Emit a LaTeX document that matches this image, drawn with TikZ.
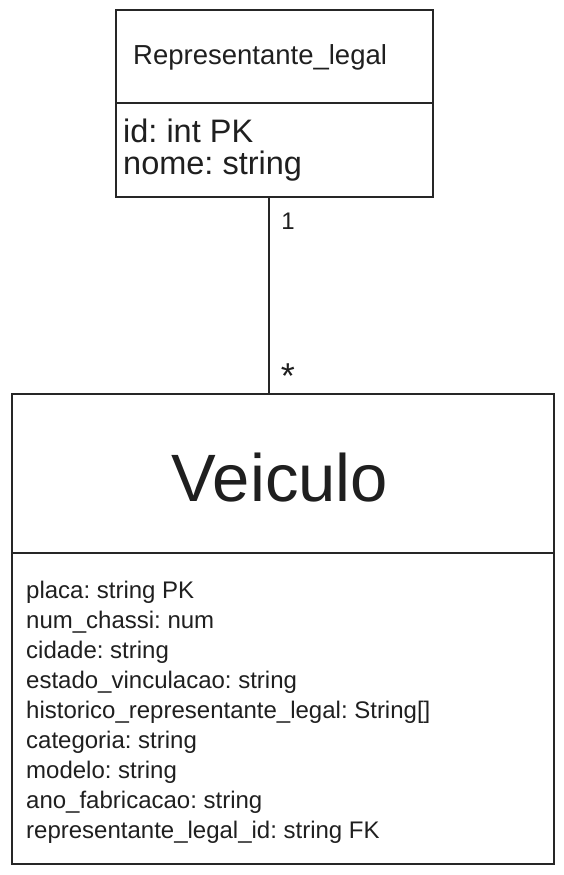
\documentclass[tikz,border=0pt]{standalone}
\usepackage{fontspec}
\setmainfont{Liberation Sans}
\frenchspacing
\begin{document}
\begin{tikzpicture}[x=1pt,y=-1pt,
  box/.style={draw=black!85, line width=1.5pt, inner sep=0pt},
  sep/.style={draw=black!85, line width=1.5pt},
  txt/.style={inner sep=0pt, anchor=west, text=black!88},
  link/.style={draw=black!85, line width=1.8pt}]
\useasboundingbox (0,0) rectangle (564,875);
% Representante_legal
\node[box, minimum width=317pt, minimum height=187pt] (rep) at (274.5,103.5) {};
\draw[sep] (rep.west |- 0,103) -- (rep.east |- 0,103);
\node[txt, font=\fontsize{27.5}{30}\selectfont] (reptitle) at (133,57) {Representante\_legal};
\node[txt, font=\fontsize{32.5}{34}\selectfont] (repid) at (123,131) {id: int PK};
\node[txt, font=\fontsize{32.5}{34}\selectfont] (repnome) at (123,166) {nome: string};
% Veiculo
\node[box, minimum width=542pt, minimum height=470pt] (veh) at (283,629) {};
\draw[sep] (veh.west |- 0,553) -- (veh.east |- 0,553);
\node[font=\fontsize{67}{72}\selectfont, inner sep=0pt, text=black!88] (vtitle) at (280,478) {Veiculo};
\foreach \t [count=\i] in {placa: string PK,num\_chassi: num,cidade: string,estado\_vinculacao: string,historico\_representante\_legal: String[],categoria: string,modelo: string,ano\_fabricacao: string,representante\_legal\_id: string FK}{
  \node[txt, font=\fontsize{24}{27}\selectfont] (attr\i) at (26,{562+30*\i}) {\t};
}
% connector
\coordinate (lx) at (269,0);
\draw[link] (rep.south -| lx) -- (veh.north -| lx);
\node[font=\fontsize{24}{26}\selectfont, inner sep=0pt, text=black!88] (m1) at (288,221) {1};
\node[font=\fontsize{36}{38}\selectfont, inner sep=0pt, text=black!88] (mstar) at (288,376) {*};
\end{tikzpicture}
\end{document}
